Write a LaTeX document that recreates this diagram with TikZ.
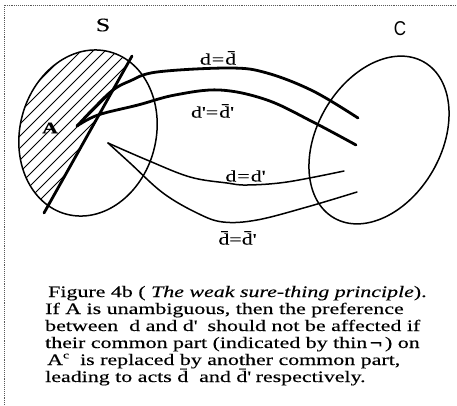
\documentclass[tikz,border=0pt]{standalone}
\usepackage{fontspec}
\setmainfont{Liberation Serif}[FakeStretch=1.37,FakeBold=0.3]
\newfontfamily\csans{Liberation Sans}[FakeStretch=0.85]
\newcommand\pr{\textquotesingle}
\newcommand\eqs{\kern1pt=\kern1pt}
\newcommand\supc{\raisebox{0.9ex}{\fontsize{10}{10}\selectfont c}}
\begin{document}
\begin{tikzpicture}[x=1pt,y=-1pt,
  thickc/.style={line width=2.8pt,line cap=round},
  thinc/.style={line width=1.5pt,line cap=round},
  ell/.style={line width=1.5pt},
  hatch/.style={line width=0.8pt},
  lab/.style={inner sep=0pt,font=\fontsize{16}{18}\selectfont},
  captext/.style={inner sep=0pt,anchor=base west,font=\fontsize{16}{17}\selectfont},
  framel/.style={black!65,densely dotted,line width=0.9pt}]
\useasboundingbox (0,0) rectangle (457,405);
% frame
\draw[framel] (4,405) -- (4,5) -- (457,5);
% hatching of A
\begin{scope}
  \clip[rotate around={-15:(88,133)}] (88,133) ellipse [x radius=68pt, y radius=84pt];
  \clip (150,23) -- (20,258) -- (-20,258) -- (-20,23) -- cycle;
  \foreach \k in {-240,-228,...,200}
    \draw[hatch] (\k,240) -- (\k+260,-20);
\end{scope}
% ellipses
\draw[ell,rotate around={-15:(88,133)}] (88,133) ellipse [x radius=68pt, y radius=84pt];
\draw[ell,rotate around={-30:(379,140)}] (379,140) ellipse [x radius=62pt, y radius=90pt];
% boundary of A
\coordinate (b1) at (44,213);
\coordinate (b2) at (132,56);
\draw[thickc] (b1) -- (b2);
% thick curves
\draw[thickc] plot[smooth,tension=0.6] coordinates {(77,126) (95,107) (113,90) (130,81) (157,72) (230,68) (267,73) (313,91) (358,118)};
\draw[thickc] plot[smooth,tension=0.6] coordinates {(77,126) (98,115) (138,105) (175,95) (220,90) (267,100) (313,122) (356,145)};
% thin curves
\draw[thinc] plot[smooth,tension=0.6] coordinates {(108,143) (147,160) (190,177) (227,183) (247,185) (287,182) (344,171)};
\draw[thinc] plot[smooth,tension=0.6] coordinates {(108,143) (130,163) (163,193) (197,213) (223,222) (257,220) (307,207) (357,192)};
% labels
\node[lab,font=\fontsize{19}{20}\selectfont] (S) at (103,25) {S};
\node[lab,font=\fontsize{20}{22}\csans] (C) at (400,29) {C};
\node[lab,font=\fontsize{16}{18}\selectfont\bfseries] (A) at (50,128) {A};
\node[lab] (l1) at (218,58) {d\eqs\=d};
\node[lab] (l2) at (212,111) {d\pr\eqs\=d\pr};
\node[lab] (l3) at (245,176) {d\eqs d\pr};
\node[lab] (l4) at (237,238) {\=d=\=d\pr};
% caption
\node[captext] (c1) at (48,297) {Figure 4b ( \textit{The weak sure-thing principle}).};
\node[captext] (c2) at (45,314) {If A is unambiguous, then the preference};
\node[captext] (c3) at (45,331) {between \ d and d\pr{} \ should not be affected if};
\node[captext] (c4) at (45,348) {their common part (indicated by thin\,{\bfseries ¬}\,) on};
\node[captext] (c5) at (47,365) {A\supc{} \ is replaced by another common part,};
\node[captext] (c6) at (45,382) {leading to acts \=d \ and \=d\pr{} respectively.};
\end{tikzpicture}
\end{document}
